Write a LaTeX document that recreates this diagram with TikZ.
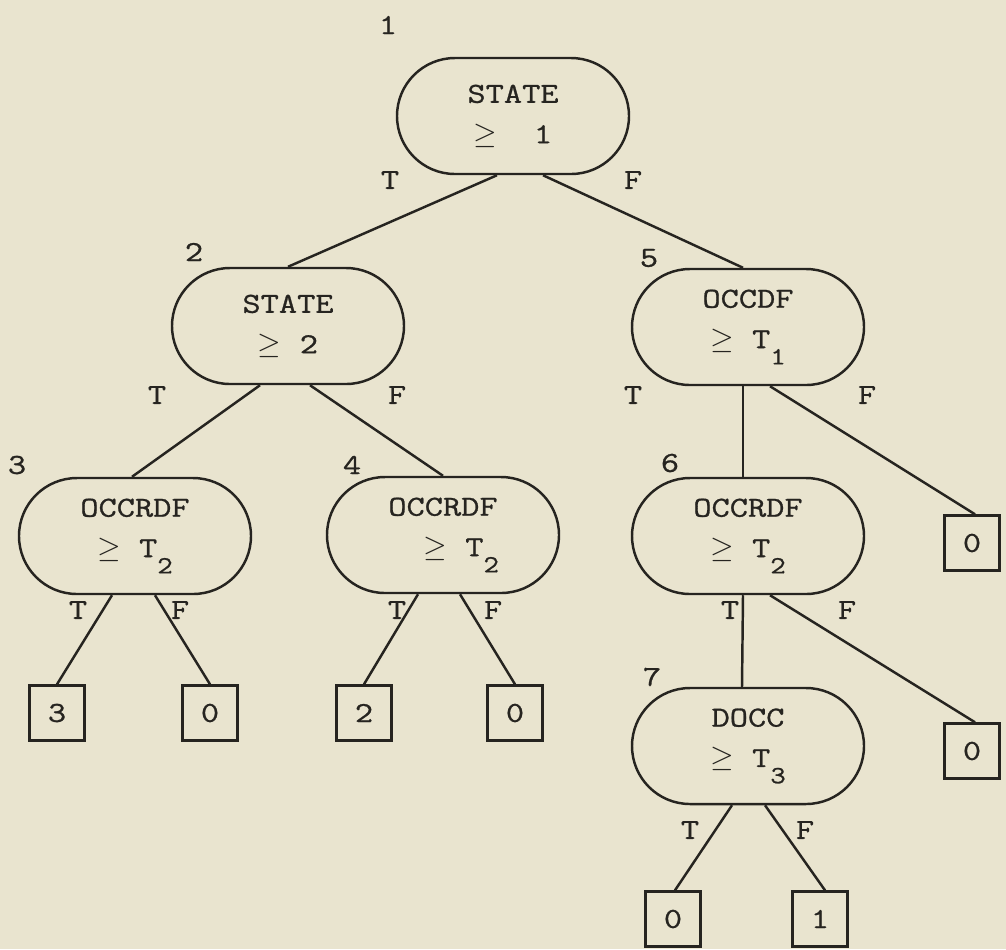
\documentclass[tikz,border=0pt]{standalone}
\usepackage{fontspec}
\setmonofont{Latin Modern Mono}[FakeStretch=1.22, FakeBold=0.9]
\usetikzlibrary{shapes.misc}

\definecolor{paper}{RGB}{233,228,207}
\definecolor{ink}{RGB}{38,36,32}
\newcommand{\lowsub}[1]{\raisebox{-1.3ex}{\fontsize{14}{14}\selectfont #1}}
\newcommand{\atleast}{$\geq$}

\begin{document}
\begin{tikzpicture}[
	every node/.style={ text=ink, font=\ttfamily\fontsize{16.5}{23}\selectfont },
	cond/.style={ rounded rectangle, draw=ink, line width=1.4pt, minimum width=4.64cm, minimum height=2.32cm, align=center, inner sep=0pt },
	leaf/.style={ rectangle, draw=ink, line width=1.4pt, minimum size=1.1cm, inner sep=0pt },
	idx/.style={ inner sep=0pt },
	branch/.style={ inner sep=0pt },
	edge/.style={ draw=ink, line width=1.4pt }
]

\fill[paper] (0,0) rectangle (20.12,-18.98);
\useasboundingbox (0,0) rectangle (20.12,-18.98);

% tests
\node at (10.26,-2.32) (c1) [cond] {STATE\\\atleast~~1};
\node at (5.76,-6.52) (c2) [cond] {STATE\\\atleast~2};
\node at (14.96,-6.54) (c5) [cond] {OCCDF\\\atleast~T\lowsub{1}};
\node at (2.70,-10.72) (c3) [cond] {OCCRDF\\\atleast~T\lowsub{2}};
\node at (8.86,-10.70) (c4) [cond] {OCCRDF\\~~\atleast~T\lowsub{2}};
\node at (14.96,-10.72) (c6) [cond] {OCCRDF\\\atleast~T\lowsub{2}};
\node at (14.96,-14.92) (c7) [cond] {DOCC\\\atleast~T\lowsub{3}};

\node at (7.76,-0.50) (i1) [idx] {1};
\node at (3.88,-5.04) (i2) [idx] {2};
\node at (12.98,-5.16) (i5) [idx] {5};
\node at (0.34,-9.30) (i3) [idx] {3};
\node at (7.04,-9.30) (i4) [idx] {4};
\node at (13.40,-9.26) (i6) [idx] {6};
\node at (13.04,-13.54) (i7) [idx] {7};

% results
\node at (1.14,-14.26) (r3) [leaf] {3};
\node at (4.20,-14.26) (r0a) [leaf] {0};
\node at (7.28,-14.26) (r2) [leaf] {2};
\node at (10.30,-14.26) (r0b) [leaf] {0};
\node at (19.44,-10.86) (r0c) [leaf] {0};
\node at (19.44,-15.02) (r0d) [leaf] {0};
\node at (13.46,-18.38) (r0e) [leaf] {0};
\node at (16.40,-18.38) (r1) [leaf] {1};

\draw[edge] ([xshift=-0.32cm]c1.south) to (c2.north);
\draw[edge] ([xshift=0.60cm]c1.south) to ([xshift=-0.10cm]c5.north);
\draw[edge] ([xshift=-0.56cm]c2.south) to ([xshift=-0.06cm]c3.north);
\draw[edge] ([xshift=0.44cm]c2.south) to (c4.north);
\draw[edge] ([xshift=-0.10cm]c5.south) to ([xshift=-0.10cm]c6.north);
\draw[edge] ([xshift=0.44cm]c5.south) to ([xshift=0.06cm]r0c.north);
\draw[edge] ([xshift=-0.46cm]c3.south) to (r3.north);
\draw[edge] ([xshift=0.40cm]c3.south) to (r0a.north);
\draw[edge] ([xshift=-0.50cm]c4.south) to (r2.north);
\draw[edge] ([xshift=0.34cm]c4.south) to (r0b.north);
\draw[edge] ([xshift=-0.10cm]c6.south) to ([xshift=-0.12cm]c7.north);
\draw[edge] ([xshift=0.44cm]c6.south) to ([xshift=0.06cm]r0d.north);
\draw[edge] ([xshift=-0.32cm]c7.south) to ([xshift=0.04cm]r0e.north);
\draw[edge] ([xshift=0.34cm]c7.south) to ([xshift=0.10cm]r1.north);

% branch labels
\node at (7.80,-3.60) (t1) [branch] {T};
\node at (12.66,-3.60) (f1) [branch] {F};
\node at (3.14,-7.90) (t2) [branch] {T};
\node at (7.94,-7.90) (f2) [branch] {F};
\node at (12.66,-7.90) (t5) [branch] {T};
\node at (17.34,-7.90) (f5) [branch] {F};
\node at (1.56,-12.20) (t3) [branch] {T};
\node at (3.60,-12.20) (f3) [branch] {F};
\node at (7.94,-12.20) (t4) [branch] {T};
\node at (9.86,-12.20) (f4) [branch] {F};
\node at (14.60,-12.20) (t6) [branch] {T};
\node at (16.94,-12.20) (f6) [branch] {F};
\node at (13.80,-16.60) (t7) [branch] {T};
\node at (16.10,-16.60) (f7) [branch] {F};

\end{tikzpicture}
\end{document}
